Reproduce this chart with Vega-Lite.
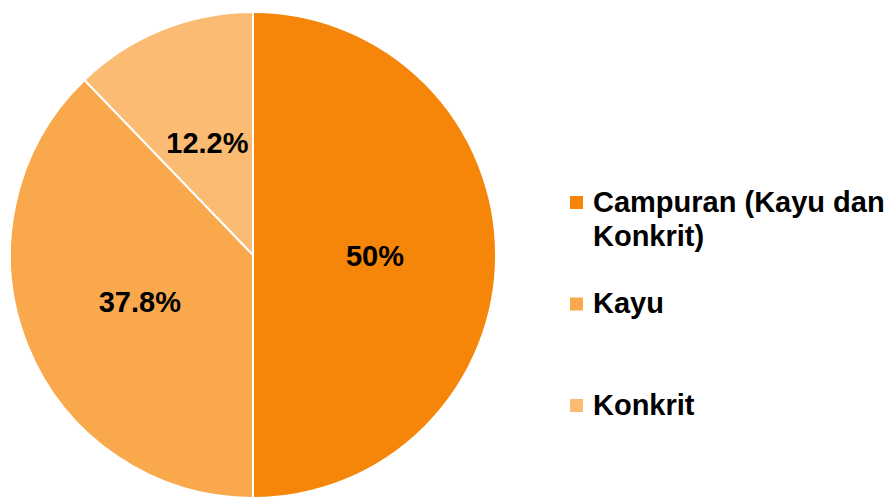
{
  "$schema": "https://vega.github.io/schema/vega-lite/v6.json",
  "width": 506,
  "height": 510,
  "padding": 0,
  "autosize": {"type": "pad"},
  "background": "white",
  "config": {
    "view": {"stroke": null},
    "style": {"guide-label": {"lineHeight": 34}}
  },
  "data": {
    "values": [
      {"category": "Campuran (Kayu dan Konkrit)", "value": 50, "label": "50%", "idx": 1},
      {"category": "Kayu", "value": 37.8, "label": "37.8%", "idx": 2},
      {"category": "Konkrit", "value": 12.2, "label": "12.2%", "idx": 3}
    ]
  },
  "encoding": {
    "theta": {"field": "value", "type": "quantitative", "stack": true},
    "order": {"field": "idx", "type": "quantitative"}
  },
  "layer": [
    {
      "mark": {"type": "arc", "outerRadius": 243, "stroke": "white", "strokeWidth": 2},
      "encoding": {
        "color": {
          "field": "category",
          "type": "nominal",
          "scale": {
            "domain": ["Campuran (Kayu dan Konkrit)", "Kayu", "Konkrit"],
            "range": ["#F5860A", "#F9A84C", "#FBBB72"]
          },
          "legend": {
            "orient": "none",
            "legendX": 562,
            "legendY": 188,
            "title": null,
            "padding": 0,
            "symbolType": "square",
            "symbolSize": 169,
            "symbolStrokeWidth": 0,
            "labelFont": "Liberation Sans",
            "labelFontSize": 29,
            "labelFontWeight": "bold",
            "labelColor": "black",
            "labelOffset": 2,
            "labelLimit": 400,
            "rowPadding": 37.5,
            "labelExpr": "datum.label == 'Campuran (Kayu dan Konkrit)' ? ['Campuran (Kayu dan', 'Konkrit)'] : [datum.label, ' ']"
          }
        }
      }
    },
    {
      "mark": {"type": "text", "radius": 122, "font": "Liberation Sans", "fontSize": 29, "fontWeight": "bold", "color": "black", "dy": 2},
      "encoding": {
        "text": {"field": "label", "type": "nominal"},
        "detail": {"field": "category", "type": "nominal"}
      }
    }
  ]
}
